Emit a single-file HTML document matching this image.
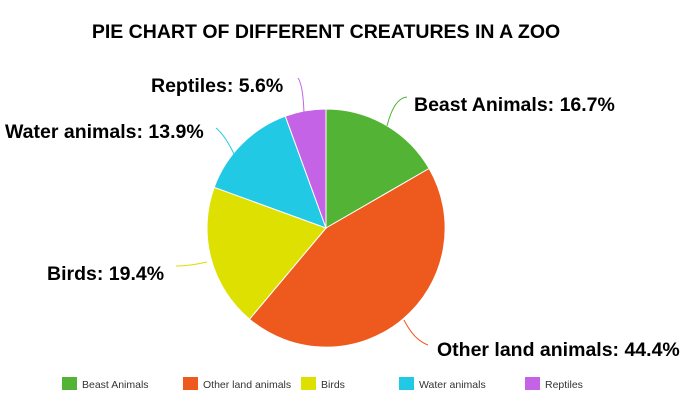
<!DOCTYPE html>
<html><head><style>
body{margin:0;background:#fff;width:688px;height:407px;overflow:hidden}
</style></head><body>
<svg width="688" height="407" xmlns="http://www.w3.org/2000/svg" font-family="Liberation Sans, sans-serif">
<text x="326" y="38" text-anchor="middle" font-size="19.5" font-weight="bold" fill="#000">PIE CHART OF DIFFERENT CREATURES IN A ZOO</text>
<g stroke="#fff" stroke-width="1">
<path d="M326,228 L326,109 A119,119 0 0 1 429.1,168.5 Z" fill="#52b335"/>
<path d="M326,228 L429.1,168.5 A119,119 0 0 1 249.5,319.2 Z" fill="#ee5a1d"/>
<path d="M326,228 L249.5,319.2 A119,119 0 0 1 214.2,187.3 Z" fill="#dde000"/>
<path d="M326,228 L214.2,187.3 A119,119 0 0 1 285.3,116.2 Z" fill="#22c9e4"/>
<path d="M326,228 L285.3,116.2 A119,119 0 0 1 326,109 Z" fill="#c463e5"/>
</g>
<g fill="none" stroke-width="1">
<path d="M387,126 Q394,98 407,97" stroke="#52b335"/>
<path d="M404,320 Q414,340 428,345" stroke="#ee5a1d"/>
<path d="M207,262 Q190,266 176,266" stroke="#dde000"/>
<path d="M235,156 Q225,135 216,128" stroke="#22c9e4"/>
<path d="M304,113 Q303,85 298,78" stroke="#c463e5"/>
</g>
<g font-size="19.5" font-weight="bold" fill="#000">
<text x="414" y="111">Beast Animals: 16.7%</text>
<text x="437" y="356">Other land animals: 44.4%</text>
<text x="47" y="280">Birds: 19.4%</text>
<text x="5" y="138">Water animals: 13.9%</text>
<text x="151" y="92">Reptiles: 5.6%</text>
</g>
<g font-size="10.5" fill="#333">
<rect x="62" y="377" width="15" height="13" fill="#52b335"/><text x="82" y="388">Beast Animals</text>
<rect x="183" y="377" width="15" height="13" fill="#ee5a1d"/><text x="203" y="388">Other land animals</text>
<rect x="301" y="377" width="15" height="13" fill="#dde000"/><text x="321" y="388">Birds</text>
<rect x="399" y="377" width="15" height="13" fill="#22c9e4"/><text x="419" y="388">Water animals</text>
<rect x="525" y="377" width="15" height="13" fill="#c463e5"/><text x="545" y="388">Reptiles</text>
</g>
</svg>
</body></html>
